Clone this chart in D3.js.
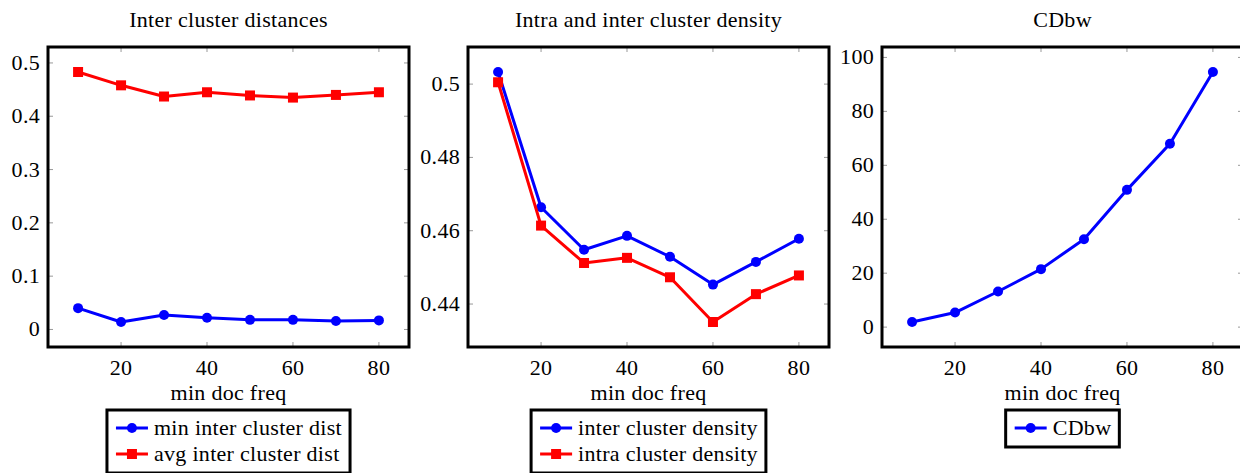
<!DOCTYPE html>
<html>
<head>
<meta charset="utf-8">
<script src="https://cdn.jsdelivr.net/npm/d3@7"></script>
<style>
  body { margin: 0; background: #fff; }
</style>
</head>
<body>
<svg width="1240" height="473"></svg>
<script>
var svg = d3.select("svg");

// min doc freq
var freqs = [10, 20, 30, 40, 50, 60, 70, 80];

// panel 1
var minInterDist = [0.040, 0.014, 0.027, 0.022, 0.018, 0.018, 0.016, 0.017];
var avgInterDist = [0.483, 0.458, 0.437, 0.445, 0.439, 0.435, 0.440, 0.445];
// panel 2
var interDensity = [0.5033, 0.4664, 0.4548, 0.4586, 0.4529, 0.4453, 0.4515, 0.4578];
var intraDensity = [0.5005, 0.4614, 0.4512, 0.4526, 0.4473, 0.4351, 0.4427, 0.4478];
// panel 3
var cdbw = [1.9, 5.4, 13.2, 21.5, 32.6, 50.9, 68.0, 94.6];

var xTicks = [20, 40, 60, 80];
var yTicks1 = [0, 0.1, 0.2, 0.3, 0.4, 0.5];
var yTicks2 = [0.44, 0.46, 0.48, 0.5];
var yTicks3 = [0, 20, 40, 60, 80, 100];

var titles = ["Inter cluster distances", "Intra and inter cluster density", "CDbw"];

var panels = [
  { left: 48, title: titles[0], yTicks: yTicks1,
    series: [{ name: "min inter cluster dist", values: minInterDist, color: "#0000ff", mark: "circle" },
             { name: "avg inter cluster dist", values: avgInterDist, color: "#ff0000", mark: "square" }] },
  { left: 468, title: titles[1], yTicks: yTicks2,
    series: [{ name: "inter cluster density", values: interDensity, color: "#0000ff", mark: "circle" },
             { name: "intra cluster density", values: intraDensity, color: "#ff0000", mark: "square" }] },
  { left: 882, title: titles[2], yTicks: yTicks3,
    series: [{ name: "CDbw", values: cdbw, color: "#0000ff", mark: "circle" }] }
];

var boxW = 361, boxTop = 47, boxBottom = 347;
var fmt = d3.format("~g");

// pgfplots style: enlarge limits by 10% of the data range
function enlarged(ext) {
  var r = ext[1] - ext[0];
  return [ext[0] - r * 0.1, ext[1] + r * 0.1];
}

function txt(sel) {
  return sel.style("font-family", "'Liberation Serif', serif")
    .style("font-size", "22px")
    .style("letter-spacing", "0.3px")
    .attr("fill", "#000");
}

function drawMarks(g, s, pts) {
  if (s.mark === "circle") {
    g.selectAll(null).data(pts).enter().append("circle")
      .attr("cx", function(d) { return d[0]; }).attr("cy", function(d) { return d[1]; })
      .attr("r", 5).attr("fill", s.color);
  } else {
    g.selectAll(null).data(pts).enter().append("rect")
      .attr("x", function(d) { return d[0] - 5; }).attr("y", function(d) { return d[1] - 5; })
      .attr("width", 10).attr("height", 10).attr("fill", s.color);
  }
}

panels.forEach(function(p) {
  var g = svg.append("g");
  var x = d3.scaleLinear().domain(enlarged(d3.extent(freqs))).range([p.left, p.left + boxW]);
  var all = [];
  p.series.forEach(function(s) { all = all.concat(s.values); });
  var y = d3.scaleLinear().domain(enlarged(d3.extent(all))).range([boxBottom, boxTop]);

  // title
  txt(g.append("text"))
    .attr("x", p.left + boxW / 2).attr("y", 27)
    .attr("text-anchor", "middle")
    .text(p.title);

  // ticks inside on both sides
  var tickG = g.append("g").attr("stroke", "#999").attr("stroke-width", 1);
  xTicks.forEach(function(t) {
    tickG.append("line").attr("x1", x(t)).attr("x2", x(t)).attr("y1", boxBottom).attr("y2", boxBottom - 5);
    tickG.append("line").attr("x1", x(t)).attr("x2", x(t)).attr("y1", boxTop).attr("y2", boxTop + 5);
  });
  p.yTicks.forEach(function(t) {
    tickG.append("line").attr("x1", p.left).attr("x2", p.left + 5).attr("y1", y(t)).attr("y2", y(t));
    tickG.append("line").attr("x1", p.left + boxW).attr("x2", p.left + boxW - 5).attr("y1", y(t)).attr("y2", y(t));
  });

  // tick labels
  txt(g.selectAll(".xl").data(xTicks).enter().append("text"))
    .attr("x", function(d) { return x(d); }).attr("y", 375)
    .attr("text-anchor", "middle")
    .text(function(d) { return d; });
  txt(g.selectAll(".yl").data(p.yTicks).enter().append("text"))
    .attr("x", p.left - 8).attr("y", function(d) { return y(d) + 7; })
    .attr("text-anchor", "end")
    .text(function(d) { return fmt(d); });

  // axis label
  txt(g.append("text"))
    .attr("x", p.left + boxW / 2).attr("y", 400)
    .attr("text-anchor", "middle")
    .text("min doc freq");

  // series
  var line = d3.line().x(function(d, i) { return x(freqs[i]); }).y(function(d) { return y(d); });
  p.series.forEach(function(s) {
    g.append("path").datum(s.values)
      .attr("d", line).attr("fill", "none")
      .attr("stroke", s.color).attr("stroke-width", 3).attr("stroke-linejoin", "round");
    drawMarks(g, s, s.values.map(function(v, i) { return [x(freqs[i]), y(v)]; }));
  });

  // axis box
  g.append("rect")
    .attr("x", p.left).attr("y", boxTop).attr("width", boxW).attr("height", boxBottom - boxTop)
    .attr("fill", "none").attr("stroke", "#000").attr("stroke-width", 3);

  // legend
  var leg = g.append("g");
  var texts = [];
  p.series.forEach(function(s, i) {
    var ty = 428 + i * 26;
    texts.push(txt(leg.append("text")).attr("y", ty + 7).text(s.name));
  });
  var tw = d3.max(texts, function(t) { return t.node().getComputedTextLength(); });
  var lw = 9 + 32 + 6 + tw + 8;
  var lx = p.left + boxW / 2 - lw / 2;
  var lh = 6 + p.series.length * 26 + 5;
  leg.insert("rect", ":first-child")
    .attr("x", lx).attr("y", 410).attr("width", lw).attr("height", lh)
    .attr("fill", "#fff").attr("stroke", "#000").attr("stroke-width", 3);
  p.series.forEach(function(s, i) {
    var ty = 428 + i * 26;
    leg.append("line").attr("x1", lx + 9).attr("x2", lx + 41).attr("y1", ty).attr("y2", ty)
      .attr("stroke", s.color).attr("stroke-width", 3);
    drawMarks(leg, s, [[lx + 25, ty]]);
    texts[i].attr("x", lx + 47);
  });
});
</script>
</body>
</html>
